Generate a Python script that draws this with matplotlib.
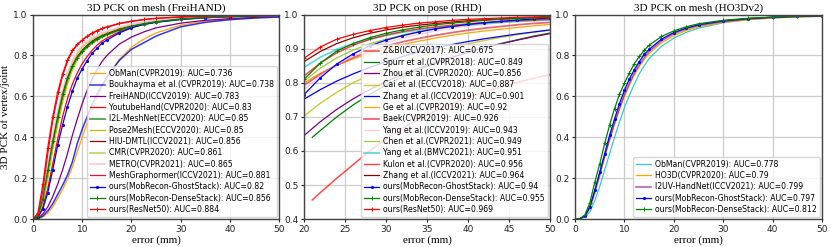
import matplotlib
matplotlib.use('Agg')
import matplotlib.pyplot as plt

# error thresholds (mm)
frei_err = [0, 1, 2, 3, 4, 5, 6, 7, 8, 9, 10, 11, 12, 13, 14, 15, 17.5, 20, 22.5, 25, 30, 35, 40, 45, 50]
ho3d_err = frei_err
rhd_err = [20, 22, 24, 26, 28, 30, 32, 34, 36, 38, 40, 42, 44, 46, 48, 50]
rhd_err_late = [21, 22, 24, 26, 28, 30, 32, 34, 36, 38, 40, 42, 44, 46, 48, 50]

# FreiHAND mesh PCK
frei_obman = [0, 0.002, 0.01, 0.03, 0.06, 0.1, 0.145, 0.195, 0.255, 0.33, 0.4, 0.47, 0.535, 0.595, 0.645, 0.69, 0.78, 0.84, 0.88, 0.91, 0.948, 0.968, 0.978, 0.985, 0.99]
frei_boukhayma = [0, 0.003, 0.015, 0.04, 0.075, 0.12, 0.165, 0.215, 0.28, 0.37, 0.44, 0.5, 0.56, 0.61, 0.655, 0.695, 0.775, 0.83, 0.862, 0.895, 0.94, 0.962, 0.975, 0.983, 0.988]
frei_freihand = [0, 0.005, 0.025, 0.06, 0.11, 0.17, 0.24, 0.32, 0.41, 0.49, 0.565, 0.63, 0.685, 0.73, 0.77, 0.8, 0.855, 0.89, 0.915, 0.935, 0.958, 0.972, 0.98, 0.986, 0.99]
frei_youtube = [0, 0.01, 0.06, 0.15, 0.27, 0.39, 0.5, 0.59, 0.66, 0.715, 0.76, 0.795, 0.825, 0.85, 0.87, 0.885, 0.915, 0.937, 0.952, 0.963, 0.977, 0.985, 0.99, 0.993, 0.995]
frei_i2l = [0, 0.012, 0.09, 0.22, 0.36, 0.48, 0.59, 0.675, 0.74, 0.785, 0.815, 0.84, 0.86, 0.876, 0.89, 0.9, 0.923, 0.94, 0.953, 0.963, 0.976, 0.985, 0.99, 0.993, 0.995]
frei_pose2mesh = [0, 0.01, 0.08, 0.2, 0.34, 0.46, 0.57, 0.66, 0.73, 0.78, 0.815, 0.84, 0.862, 0.878, 0.892, 0.903, 0.926, 0.943, 0.956, 0.966, 0.978, 0.986, 0.991, 0.994, 0.996]
frei_hiu = [0, 0.015, 0.1, 0.235, 0.375, 0.5, 0.605, 0.69, 0.75, 0.795, 0.825, 0.85, 0.87, 0.885, 0.897, 0.907, 0.93, 0.946, 0.958, 0.967, 0.979, 0.987, 0.991, 0.994, 0.996]
frei_cmr = [0, 0.015, 0.1, 0.24, 0.385, 0.51, 0.62, 0.705, 0.765, 0.81, 0.84, 0.862, 0.88, 0.893, 0.905, 0.914, 0.935, 0.95, 0.961, 0.969, 0.98, 0.987, 0.991, 0.994, 0.996]
frei_metro = [0, 0.02, 0.11, 0.26, 0.4, 0.525, 0.63, 0.715, 0.775, 0.82, 0.85, 0.87, 0.887, 0.9, 0.91, 0.918, 0.938, 0.952, 0.962, 0.97, 0.981, 0.988, 0.992, 0.995, 0.997]
frei_graphormer = [0, 0.02, 0.14, 0.32, 0.48, 0.6, 0.7, 0.77, 0.82, 0.852, 0.875, 0.893, 0.908, 0.92, 0.93, 0.938, 0.955, 0.966, 0.975, 0.981, 0.988, 0.992, 0.995, 0.997, 0.998]
frei_ghost = [0, 0.01, 0.05, 0.13, 0.24, 0.36, 0.46, 0.55, 0.625, 0.69, 0.735, 0.775, 0.81, 0.835, 0.86, 0.875, 0.91, 0.935, 0.952, 0.963, 0.977, 0.985, 0.99, 0.993, 0.995]
frei_dense = [0, 0.015, 0.1, 0.24, 0.38, 0.5, 0.61, 0.69, 0.75, 0.79, 0.82, 0.845, 0.865, 0.88, 0.893, 0.903, 0.925, 0.942, 0.955, 0.965, 0.978, 0.986, 0.991, 0.994, 0.996]
frei_resnet = [0, 0.03, 0.17, 0.35, 0.5, 0.62, 0.71, 0.78, 0.825, 0.855, 0.875, 0.895, 0.91, 0.922, 0.932, 0.94, 0.957, 0.968, 0.976, 0.982, 0.989, 0.993, 0.995, 0.997, 0.998]

frei_labels = ['ObMan(CVPR2019): AUC=0.736', 'Boukhayma et al.(CVPR2019): AUC=0.738',
               'FreiHAND(ICCV2019): AUC=0.783', 'YoutubeHand(CVPR2020): AUC=0.83',
               'I2L-MeshNet(ECCV2020): AUC=0.85', 'Pose2Mesh(ECCV2020): AUC=0.85',
               'HIU-DMTL(ICCV2021): AUC=0.856', 'CMR(CVPR2020): AUC=0.861',
               'METRO(CVPR2021): AUC=0.865', 'MeshGraphormer(ICCV2021): AUC=0.881',
               'ours(MobRecon-GhostStack): AUC=0.82', 'ours(MobRecon-DenseStack): AUC=0.856',
               'ours(ResNet50): AUC=0.884']

# RHD pose PCK
rhd_zb = [0.456, 0.478, 0.52, 0.56, 0.6, 0.635, 0.666, 0.693, 0.717, 0.738, 0.757, 0.773, 0.788, 0.801, 0.813, 0.824]
rhd_spurr = [0.64, 0.66, 0.7, 0.735, 0.766, 0.793, 0.817, 0.838, 0.857, 0.874, 0.889, 0.903, 0.915, 0.926, 0.937, 0.946]
rhd_zhou = [0.645, 0.686, 0.722, 0.753, 0.78, 0.803, 0.824, 0.843, 0.86, 0.875, 0.889, 0.902, 0.914, 0.925, 0.935, 0.944]
rhd_cai = [0.702, 0.74, 0.772, 0.8, 0.823, 0.843, 0.861, 0.877, 0.891, 0.903, 0.914, 0.924, 0.933, 0.941, 0.948, 0.954]
rhd_zhang19 = [0.752, 0.78, 0.805, 0.826, 0.845, 0.862, 0.877, 0.89, 0.902, 0.912, 0.921, 0.929, 0.936, 0.943, 0.949, 0.955]
rhd_ge = [0.8, 0.828, 0.851, 0.87, 0.886, 0.9, 0.912, 0.922, 0.931, 0.939, 0.946, 0.952, 0.957, 0.962, 0.967, 0.971]
rhd_baek = [0.793, 0.825, 0.852, 0.874, 0.892, 0.907, 0.92, 0.93, 0.939, 0.947, 0.954, 0.96, 0.965, 0.97, 0.974, 0.977]
rhd_yang19 = [0.78, 0.82, 0.853, 0.879, 0.9, 0.917, 0.931, 0.942, 0.952, 0.96, 0.966, 0.971, 0.976, 0.98, 0.983, 0.986]
rhd_chen = [0.805, 0.843, 0.873, 0.896, 0.914, 0.928, 0.94, 0.95, 0.958, 0.965, 0.97, 0.975, 0.979, 0.982, 0.985, 0.987]
rhd_yang21 = [0.845, 0.875, 0.898, 0.915, 0.928, 0.939, 0.948, 0.955, 0.961, 0.966, 0.97, 0.974, 0.977, 0.98, 0.982, 0.984]
rhd_kulon = [0.82, 0.858, 0.888, 0.91, 0.927, 0.94, 0.95, 0.958, 0.964, 0.969, 0.973, 0.977, 0.98, 0.982, 0.984, 0.986]
rhd_zhang21 = [0.862, 0.892, 0.915, 0.932, 0.945, 0.955, 0.963, 0.969, 0.974, 0.978, 0.982, 0.985, 0.987, 0.989, 0.991, 0.992]
rhd_ghost = [0.765, 0.815, 0.855, 0.885, 0.908, 0.925, 0.938, 0.949, 0.958, 0.965, 0.971, 0.976, 0.98, 0.984, 0.987, 0.99]
rhd_dense = [0.81, 0.858, 0.893, 0.915, 0.932, 0.945, 0.955, 0.963, 0.97, 0.975, 0.979, 0.983, 0.986, 0.988, 0.99, 0.992]
rhd_resnet = [0.872, 0.905, 0.928, 0.942, 0.953, 0.962, 0.969, 0.975, 0.979, 0.983, 0.986, 0.988, 0.99, 0.992, 0.993, 0.995]

rhd_labels = ['Z&B(ICCV2017): AUC=0.675', 'Spurr et al.(CVPR2018): AUC=0.849',
              'Zhou et al.(CVPR2020): AUC=0.856', 'Cai et al.(ECCV2018): AUC=0.887',
              'Zhang et al.(ICCV2019): AUC=0.901', 'Ge et al.(CVPR2019): AUC=0.92',
              'Baek(CVPR2019): AUC=0.926', 'Yang et al.(ICCV2019): AUC=0.943',
              'Chen et al.(CVPR2021): AUC=0.949', 'Yang et al.(BMVC2021): AUC=0.951',
              'Kulon et al.(CVPR2020): AUC=0.956', 'Zhang et al.(ICCV2021): AUC=0.964',
              'ours(MobRecon-GhostStack): AUC=0.94', 'ours(MobRecon-DenseStack): AUC=0.955',
              'ours(ResNet50): AUC=0.969']

# HO3Dv2 mesh PCK
ho3d_obman = [0, 0.001, 0.01, 0.035, 0.09, 0.16, 0.24, 0.32, 0.4, 0.475, 0.545, 0.605, 0.66, 0.71, 0.75, 0.785, 0.845, 0.885, 0.913, 0.934, 0.96, 0.975, 0.984, 0.99, 0.993]
ho3d_ho3d = [0, 0.002, 0.015, 0.06, 0.14, 0.225, 0.31, 0.39, 0.465, 0.535, 0.6, 0.655, 0.705, 0.745, 0.78, 0.81, 0.862, 0.897, 0.922, 0.94, 0.962, 0.975, 0.983, 0.988, 0.991]
ho3d_i2uv = [0, 0.002, 0.014, 0.055, 0.13, 0.215, 0.305, 0.39, 0.47, 0.545, 0.61, 0.665, 0.715, 0.755, 0.79, 0.82, 0.872, 0.907, 0.93, 0.947, 0.967, 0.979, 0.986, 0.99, 0.993]
ho3d_ghost = [0, 0.002, 0.015, 0.06, 0.14, 0.23, 0.32, 0.41, 0.49, 0.565, 0.63, 0.685, 0.73, 0.77, 0.805, 0.83, 0.88, 0.912, 0.934, 0.95, 0.969, 0.98, 0.987, 0.991, 0.994]
ho3d_dense = [0, 0.002, 0.02, 0.08, 0.18, 0.27, 0.37, 0.46, 0.54, 0.61, 0.665, 0.715, 0.76, 0.795, 0.825, 0.85, 0.893, 0.92, 0.94, 0.955, 0.972, 0.982, 0.988, 0.992, 0.995]

ho3d_labels = ['ObMan(CVPR2019): AUC=0.778', 'HO3D(CVPR2020): AUC=0.79',
               'I2UV-HandNet(ICCV2021): AUC=0.799', 'ours(MobRecon-GhostStack): AUC=0.797',
               'ours(MobRecon-DenseStack): AUC=0.812']

SERIF = 'Liberation Serif'


def style_axes(ax, title, xticks, yticks):
    ax.set_title(title, family=SERIF, fontsize=8, pad=2.5)
    ax.set_xlabel('error (mm)', family=SERIF, fontsize=8, labelpad=1)
    ax.set_xticks(xticks)
    ax.set_yticks(yticks)
    ax.set_xlim(xticks[0], xticks[-1])
    ax.set_ylim(yticks[0], yticks[-1])
    ax.tick_params(labelsize=6.5, length=2.5, pad=1.5, colors='#222222')
    ax.grid(color='#cccccc', linewidth=0.9)
    ax.set_axisbelow(True)
    for s in ax.spines.values():
        s.set_color('#444444')
        s.set_linewidth(1.0)


def add_legend(ax):
    ax.legend(loc='lower right', fontsize=5.6, labelspacing=0.3, handlelength=2.0,
              handletextpad=0.5, borderpad=0.35, borderaxespad=0.3, framealpha=0.8)


def plot_frei(ax):
    curves = [frei_obman, frei_boukhayma, frei_freihand, frei_youtube, frei_i2l,
              frei_pose2mesh, frei_hiu, frei_cmr, frei_metro, frei_graphormer]
    colors = ['orange', 'blue', 'purple', 'red', 'green', 'y', 'darkred',
              'yellowgreen', 'pink', 'crimson']
    widths = [0.9, 1.1, 0.9, 0.9, 1.3, 0.9, 0.9, 1.3, 1.3, 0.9]
    alphas = [1, 0.8, 1, 1, 0.7, 1, 1, 0.7, 0.8, 1]
    for y, c, lw, a, lab in zip(curves, colors, widths, alphas, frei_labels[:10]):
        ax.plot(frei_err, y, color=c, lw=lw, alpha=a, label=lab)
    ax.plot(frei_err, frei_ghost, color='blue', lw=0.9, marker='.', ms=2.5, label=frei_labels[10])
    ax.plot(frei_err, frei_dense, color='green', lw=0.9, marker='+', ms=2.5, mew=0.7, label=frei_labels[11])
    ax.plot(frei_err, frei_resnet, color='red', lw=0.9, marker='+', ms=2.5, mew=0.7, label=frei_labels[12])
    style_axes(ax, '3D PCK on mesh (FreiHAND)', [0, 10, 20, 30, 40, 50],
               [0.0, 0.2, 0.4, 0.6, 0.8, 1.0])
    ax.set_ylabel('3D PCK of vertex/joint', family=SERIF, fontsize=8, labelpad=2)
    add_legend(ax)


def plot_rhd(ax):
    ax.plot(rhd_err_late, rhd_zb, color='red', lw=1.1, alpha=0.7, label=rhd_labels[0])
    ax.plot(rhd_err_late, rhd_spurr, color='green', lw=0.9, label=rhd_labels[1])
    curves = [rhd_zhou, rhd_cai, rhd_zhang19, rhd_ge, rhd_baek, rhd_yang19,
              rhd_chen, rhd_yang21, rhd_kulon, rhd_zhang21]
    colors = ['purple', 'y', 'blue', 'orange', '#dd4455', 'pink',
              'yellowgreen', 'c', 'red', 'darkred']
    widths = [0.9, 1.0, 0.9, 0.9, 1.3, 1.0, 0.9, 1.3, 1.0, 0.9]
    alphas = [1, 0.8, 1, 1, 0.8, 0.8, 1, 0.6, 0.75, 1]
    for y, c, lw, a, lab in zip(curves, colors, widths, alphas, rhd_labels[2:12]):
        ax.plot(rhd_err, y, color=c, lw=lw, alpha=a, label=lab)
    ax.plot(rhd_err, rhd_ghost, color='blue', lw=0.9, marker='.', ms=2.5, label=rhd_labels[12])
    ax.plot(rhd_err, rhd_dense, color='green', lw=0.9, marker='+', ms=2.5, mew=0.7, label=rhd_labels[13])
    ax.plot(rhd_err, rhd_resnet, color='red', lw=0.9, marker='+', ms=2.5, mew=0.7, label=rhd_labels[14])
    style_axes(ax, '3D PCK on pose (RHD)', [20, 25, 30, 35, 40, 45, 50],
               [0.4, 0.5, 0.6, 0.7, 0.8, 0.9, 1.0])
    add_legend(ax)


def plot_ho3d(ax):
    ax.plot(ho3d_err, ho3d_obman, color='c', lw=0.9, alpha=0.8, label=ho3d_labels[0])
    ax.plot(ho3d_err, ho3d_ho3d, color='orange', lw=0.9, label=ho3d_labels[1])
    ax.plot(ho3d_err, ho3d_i2uv, color='purple', lw=1.2, alpha=0.6, label=ho3d_labels[2])
    ax.plot(ho3d_err, ho3d_ghost, color='blue', lw=0.9, marker='.', ms=2.5, label=ho3d_labels[3])
    ax.plot(ho3d_err, ho3d_dense, color='green', lw=0.9, marker='+', ms=2.5, mew=0.7, label=ho3d_labels[4])
    style_axes(ax, '3D PCK on mesh (HO3Dv2)', [0, 10, 20, 30, 40, 50],
               [0.0, 0.2, 0.4, 0.6, 0.8, 1.0])
    add_legend(ax)


def main():
    fig = plt.figure(figsize=(8.3, 2.47), dpi=100)
    bottom, height = 0.113, 0.828
    ax1 = fig.add_axes([0.0398, bottom, 0.2964, height])
    ax2 = fig.add_axes([0.3663, bottom, 0.2964, height])
    ax3 = fig.add_axes([0.6928, bottom, 0.2976, height])
    plot_frei(ax1)
    plot_rhd(ax2)
    plot_ho3d(ax3)
    fig.savefig('out.png', dpi=100)


if __name__ == '__main__':
    main()
